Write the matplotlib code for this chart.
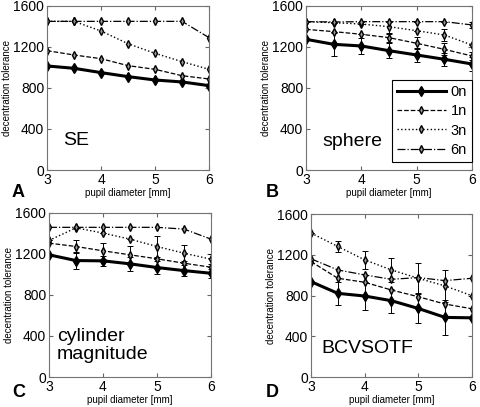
import matplotlib
matplotlib.use("Agg")
import matplotlib.pyplot as plt
from matplotlib.lines import Line2D
import numpy as np

plt.rcParams['font.family'] = ['Liberation Sans', 'DejaVu Sans']

pupil = [3, 3.5, 4, 4.5, 5, 5.5, 6]
series_names = ["0n", "1n", "3n", "6n"]

# panel A: SE
se_0n = [1015, 992, 950, 911, 878, 859, 823]
se_1n = [1164, 1122, 1086, 1018, 982, 920, 888]
se_3n = [1450, 1450, 1356, 1232, 1138, 1057, 982]
se_6n = [1450, 1450, 1450, 1450, 1450, 1450, 1291]

# panel B: sphere
sph_0n = [1275, 1226, 1210, 1164, 1122, 1080, 1034]
sph_1n = [1372, 1350, 1324, 1291, 1236, 1177, 1112]
sph_3n = [1447, 1437, 1424, 1398, 1359, 1317, 1219]
sph_6n = [1447, 1444, 1447, 1447, 1447, 1447, 1415]
sph_0n_err = [0, 115, 78, 74, 70, 65, 65]
sph_1n_err = [0, 0, 0, 40, 60, 60, 40]
sph_3n_err = [0, 0, 0, 60, 0, 60, 0]
sph_6n_err = [0, 0, 0, 0, 0, 0, 30]

# panel C: cylinder magnitude
cyl_0n = [1192, 1136, 1133, 1104, 1068, 1038, 1012]
cyl_1n = [1306, 1273, 1231, 1192, 1153, 1110, 1071]
cyl_3n = [1332, 1455, 1404, 1345, 1273, 1208, 1149]
cyl_6n = [1460, 1460, 1460, 1460, 1460, 1443, 1345]
cyl_0n_err = [0, 85, 50, 67, 66, 53, 46]
cyl_1n_err = [0, 63, 80, 89, 0, 0, 0]
cyl_3n_err = [0, 0, 0, 0, 100, 80, 50]

# panel D: BCVSOTF
bcv_0n = [936, 821, 795, 749, 673, 585, 581]
bcv_1n = [1133, 969, 930, 854, 788, 716, 670]
bcv_3n = [1413, 1281, 1150, 1051, 969, 894, 798]
bcv_6n = [1160, 1051, 1002, 959, 976, 946, 969]
bcv_0n_err = [0, 114, 137, 118, 146, 173, 0]
bcv_3n_err = [0, 58, 90, 114, 147, 157, 0]

styles = [
    dict(ls='-', lw=2.2, marker='d', ms=5, mfc='k', mec='k'),
    dict(ls='--', lw=0.9, marker='d', ms=4, mfc='0.6', mec='k'),
    dict(ls=':', lw=1.0, marker='d', ms=4, mfc='0.6', mec='k'),
    dict(ls='-.', lw=0.9, marker='d', ms=4, mfc='0.6', mec='k'),
]

panels = [
    dict(rect=[0.098, 0.5823, 0.3375, 0.403], data=[se_0n, se_1n, se_3n, se_6n],
         errs=[None, None, None, None], label="SE", lx=3.3, ly=285, letter="A", fx=0.025, fy=0.516),
    dict(rect=[0.6375, 0.5823, 0.346, 0.403], data=[sph_0n, sph_1n, sph_3n, sph_6n],
         errs=[sph_0n_err, sph_1n_err, sph_3n_err, sph_6n_err], label="sphere", lx=3.3, ly=275,
         letter="B", fx=0.553, fy=0.516),
    dict(rect=[0.102, 0.0737, 0.3375, 0.403], data=[cyl_0n, cyl_1n, cyl_3n, cyl_6n],
         errs=[cyl_0n_err, cyl_1n_err, cyl_3n_err, None], label="cylinder\nmagnitude", lx=3.15, ly=310,
         letter="C", fx=0.025, fy=0.025),
    dict(rect=[0.648, 0.0737, 0.335, 0.4005], data=[bcv_0n, bcv_1n, bcv_3n, bcv_6n],
         errs=[bcv_0n_err, None, bcv_3n_err, None], label="BCVSOTF", lx=3.2, ly=275,
         letter="D", fx=0.553, fy=0.025),
]

fig = plt.figure(figsize=(4.8, 4.07), dpi=100)

for i, p in enumerate(panels):
    ax = fig.add_axes(p["rect"])
    for name, vals, err, st in zip(series_names, p["data"], p["errs"], styles):
        ax.errorbar(pupil, vals, yerr=err, color='k', capsize=2, elinewidth=0.7,
                    capthick=0.7, **st)
    ax.set_xlim(3, 6)
    ax.set_ylim(0, 1600)
    ax.set_xticks([3, 4, 5, 6])
    ax.set_yticks([0, 400, 800, 1200, 1600])
    ax.tick_params(direction='in', top=True, right=True, labelsize=10, length=3, pad=2, color='0.4')
    for s in ax.spines.values():
        s.set_color('0.45')
        s.set_linewidth(0.8)
    ax.set_xlabel("pupil diameter [mm]", fontsize=7, labelpad=1)
    ax.set_ylabel("decentration tolerance", fontsize=7, labelpad=1)
    ax.text(p["lx"], p["ly"], p["label"], fontsize=14, va='center', ha='left', linespacing=1.1)
    fig.text(p["fx"], p["fy"], p["letter"], fontsize=13, fontweight='bold')
    if i == 1:
        handles = [Line2D([], [], color='k', **st) for st in styles]
        leg = ax.legend(handles, series_names, loc='lower right', bbox_to_anchor=(1.0, 0.05),
                        borderaxespad=0, fontsize=10.5, fancybox=False, edgecolor='k',
                        handlelength=3.4, handletextpad=0.3, labelspacing=0.35, borderpad=0.35,
                        framealpha=1)
        leg.get_frame().set_linewidth(0.8)

fig.savefig("out.png", dpi=100)
